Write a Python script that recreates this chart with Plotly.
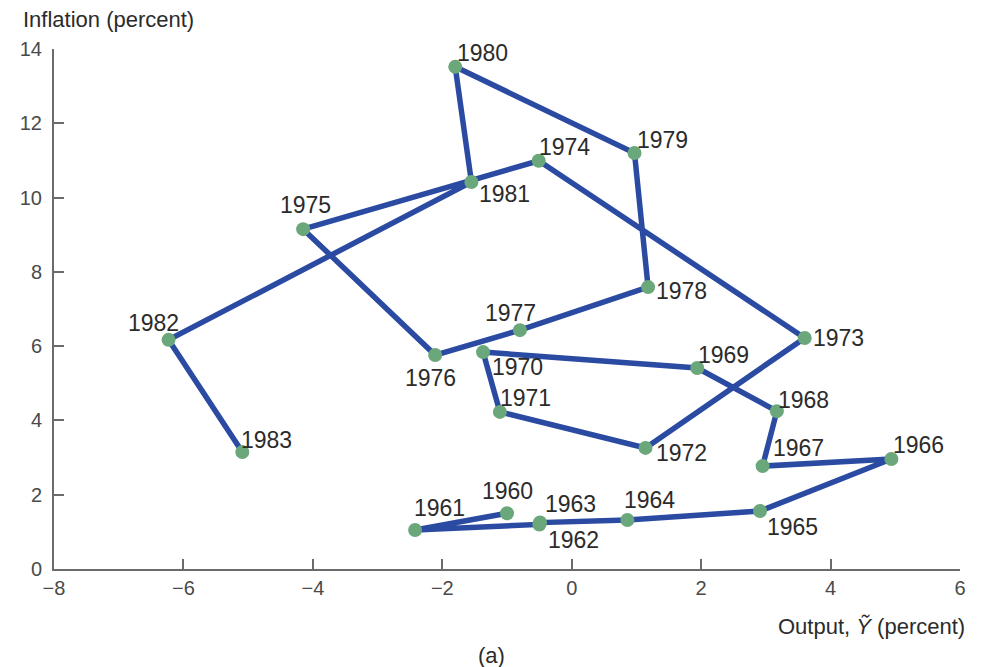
import plotly.graph_objects as go

years = list(range(1960, 1984))
output_gap = [-1.0, -2.42, -0.5, -0.49, 0.86, 2.91, 4.94, 2.95, 3.17, 1.94,
              -1.37, -1.11, 1.14, 3.6, -0.51, -4.15, -2.11, -0.8, 1.18, 0.97,
              -1.8, -1.55, -6.23, -5.09]
inflation = [1.5, 1.05, 1.2, 1.25, 1.32, 1.56, 2.96, 2.77, 4.25, 5.41,
             5.84, 4.23, 3.26, 6.22, 10.99, 9.15, 5.76, 6.43, 7.59, 11.2,
             13.52, 10.42, 6.17, 3.15]
x_ticks = [-8, -6, -4, -2, 0, 2, 4, 6]
y_ticks = [0, 2, 4, 6, 8, 10, 12, 14]

# label pixel offsets (dx, dy) relative to each point (style, not data)
label_offsets = {
    1960: (0, -22), 1961: (24, -22), 1962: (34, 16), 1963: (30, -19),
    1964: (22, -20), 1965: (32, 16), 1966: (27, -14), 1967: (36, -18),
    1968: (27, -11), 1969: (26, -13), 1970: (34, 15), 1971: (26, -14),
    1972: (36, 5), 1973: (34, 0), 1974: (26, -14), 1975: (2, -24),
    1976: (-5, 23), 1977: (-9, -17), 1978: (33, 4), 1979: (28, -13),
    1980: (27, -14), 1981: (33, 12), 1982: (-15, -17), 1983: (24, -12),
}

FONT = "Liberation Sans, Arial, sans-serif"
TXT = "#2b2b2b"

fig = go.Figure()
fig.add_trace(go.Scatter(
    x=output_gap, y=inflation, mode="lines+markers",
    line=dict(color="#2b4ba3", width=5.5),
    marker=dict(color="#6aa77a", size=14),
    hoverinfo="skip", showlegend=False,
))

for yr, xv, yv in zip(years, output_gap, inflation):
    dx, dy = label_offsets[yr]
    fig.add_annotation(x=xv, y=yv, text=str(yr), showarrow=False,
                       xshift=dx, yshift=-dy,
                       font=dict(family=FONT, size=23, color=TXT))

fig.add_annotation(x=0, y=1, xref="paper", yref="paper", xshift=-33, yshift=30,
                   xanchor="left", yanchor="middle", showarrow=False,
                   text="Inflation (percent)",
                   font=dict(family=FONT, size=22, color=TXT))
fig.add_annotation(x=1, y=0, xref="paper", yref="paper", xshift=7, yshift=-57,
                   xanchor="right", yanchor="middle", showarrow=False,
                   text="Output, <i>Ỹ</i> (percent)",
                   font=dict(family=FONT, size=22, color=TXT))
fig.add_annotation(x=0.483, y=0, xref="paper", yref="paper", yshift=-86,
                   xanchor="center", yanchor="middle", showarrow=False,
                   text="(a)", font=dict(family=FONT, size=22, color=TXT))

axis_common = dict(showgrid=False, zeroline=False, showline=True,
                   linecolor="#6b6b6b", linewidth=2, ticks="inside",
                   ticklen=10, tickwidth=2, tickcolor="#6b6b6b",
                   tickfont=dict(family=FONT, size=20, color="#4a4a4a"))

fig.update_layout(
    width=986, height=667,
    margin=dict(l=41, r=34, t=41, b=106),
    paper_bgcolor="white", plot_bgcolor="white",
    xaxis=dict(range=[-8, 6], tickvals=x_ticks, **axis_common),
    yaxis=dict(range=[0, 14], tickvals=y_ticks, ticklabelstandoff=6,
               **axis_common),
)

fig.write_html("out.html")
